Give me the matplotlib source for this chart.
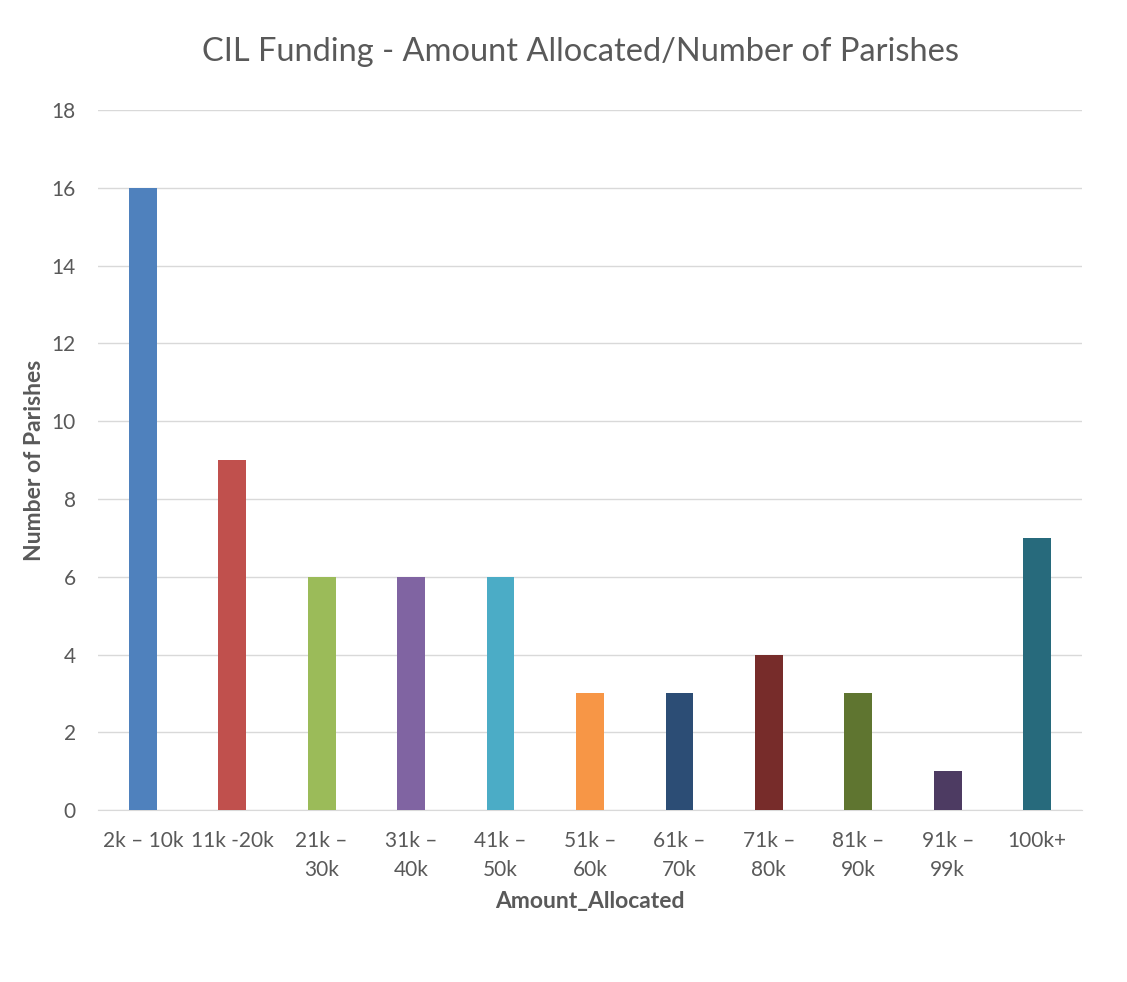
import matplotlib
matplotlib.use("Agg")
import matplotlib.pyplot as plt
import numpy as np

categories = ["2k \u2013 10k", "11k -20k", "21k \u2013\n30k", "31k \u2013\n40k", "41k \u2013\n50k",
              "51k \u2013\n60k", "61k \u2013\n70k", "71k \u2013\n80k", "81k \u2013\n90k",
              "91k \u2013\n99k", "100k+"]
parishes = [16, 9, 6, 6, 6, 3, 3, 4, 3, 1, 7]
colors = ["#4F81BD", "#C0504D", "#9BBB59", "#8064A2", "#4BACC6", "#F79646",
          "#2C4D75", "#772C2A", "#5F7530", "#4D3B62", "#276A7C"]

plt.rcParams['font.family'] = ['Lato', 'DejaVu Sans']
text_color = '#595959'

fig = plt.figure(figsize=(11.27, 9.82), dpi=100)
ax = fig.add_axes([0.087, 0.175, 0.873, 0.713])

x = np.arange(len(categories))
ax.bar(x, parishes, width=0.31, color=colors, zorder=3)

ax.set_xlim(-0.5, len(categories) - 0.5)
ax.set_ylim(0, 18)
ax.set_yticks(range(0, 19, 2))
ax.yaxis.grid(True, color='#D9D9D9', linewidth=1, zorder=0)
ax.set_xticks(x)
ax.set_xticklabels(categories, fontsize=15, color=text_color, linespacing=1.55)
ax.tick_params(axis='y', labelsize=15, colors=text_color, length=0, pad=16)
ax.tick_params(axis='x', length=0, pad=15)
for lab in ax.get_xticklabels():
    lab.set_verticalalignment('top')

for side in ['top', 'right', 'left']:
    ax.spines[side].set_visible(False)
ax.spines['bottom'].set_color('#D9D9D9')

ax.set_xlabel('Amount_Allocated', fontsize=16.5, fontweight='bold', color=text_color, labelpad=8)
ax.set_ylabel('Number of Parishes', fontsize=16.5, fontweight='bold', color=text_color, labelpad=5)

fig.text(0.515, 0.947, 'CIL Funding - Amount Allocated/Number of Parishes',
         ha='center', va='center', fontsize=23.5, color=text_color)

fig.savefig('out.png', dpi=100, facecolor='white')
